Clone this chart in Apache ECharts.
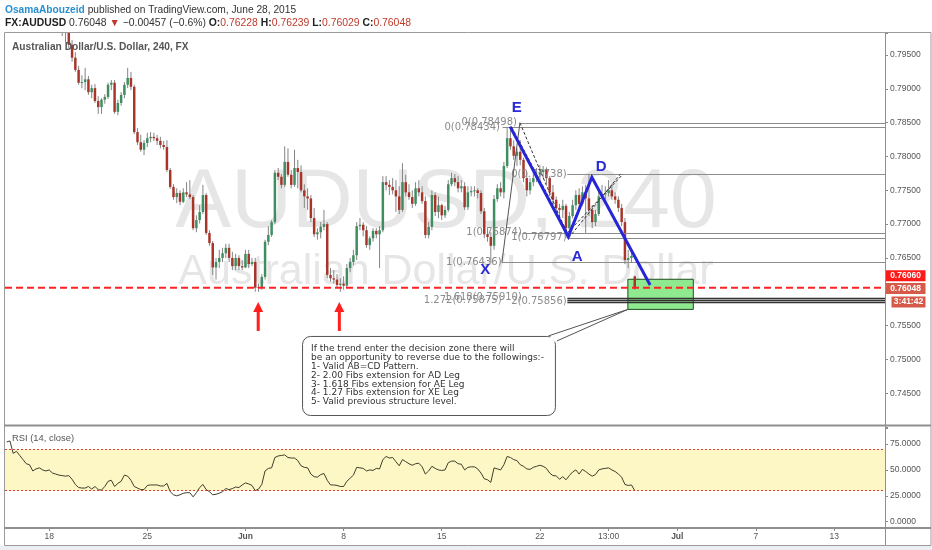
<!DOCTYPE html>
<html>
<head>
<meta charset="utf-8">
<title>AUDUSD 240</title>
<script src="https://cdn.jsdelivr.net/npm/echarts@6.0.0/dist/echarts.min.js"></script>
<style>
html,body{margin:0;padding:0;background:#fff;overflow:hidden}
#chart{width:932px;height:550px}
</style>
</head>
<body>
<div id="chart"></div>
<script>
// ---------------- data ----------------
// 4h candles: [open, high, low, close]
const CANDLES = [
[0.8110,0.8125,0.8095,0.8120],[0.8120,0.8135,0.8110,0.8128],[0.8128,0.8130,0.8085,0.8090],[0.8090,0.8108,0.8080,0.8100],
[0.8100,0.8104,0.8075,0.8080],[0.8080,0.8088,0.8060,0.8065],[0.8065,0.8072,0.8050,0.8055],[0.8055,0.8062,0.8045,0.8052],
[0.8052,0.8055,0.8025,0.8030],[0.8030,0.8045,0.8025,0.8040],[0.8040,0.8050,0.8035,0.8045],[0.8045,0.8048,0.8030,0.8036],
[0.8036,0.8042,0.8025,0.8032],[0.8032,0.8040,0.8028,0.8036],[0.8036,0.8038,0.8018,0.8022],[0.8022,0.8030,0.8012,0.8016],
[0.8016,0.8022,0.8005,0.8010],[0.8010,0.8017,0.7978,0.8002],[0.8002,0.8009,0.7969,0.7987],[0.7987,0.7991,0.7960,0.7965],
[0.7965,0.7972,0.7940,0.7946],[0.7946,0.7954,0.7925,0.7928],[0.7928,0.7934,0.7906,0.7909],[0.7909,0.7920,0.7901,0.7910],
[0.7910,0.7931,0.7898,0.7914],[0.7914,0.7919,0.7891,0.7895],[0.7895,0.7906,0.7886,0.7901],[0.7901,0.7907,0.7879,0.7882],
[0.7882,0.7889,0.7863,0.7873],[0.7873,0.7886,0.7863,0.7884],[0.7884,0.7892,0.7878,0.7888],[0.7888,0.7909,0.7885,0.7906],
[0.7906,0.7913,0.7898,0.7909],[0.7909,0.7913,0.7863,0.7866],[0.7866,0.7884,0.7861,0.7879],[0.7879,0.7895,0.7875,0.7891],
[0.7891,0.7910,0.7886,0.7906],[0.7906,0.7931,0.7901,0.7916],[0.7916,0.7925,0.7898,0.7903],[0.7903,0.7906,0.7833,0.7836],
[0.7836,0.7842,0.7817,0.7821],[0.7821,0.7832,0.7807,0.7810],[0.7810,0.7824,0.7802,0.7820],[0.7820,0.7835,0.7814,0.7827],
[0.7827,0.7836,0.7821,0.7829],[0.7829,0.7835,0.7823,0.7827],[0.7827,0.7832,0.7817,0.7823],[0.7823,0.7829,0.7812,0.7817],
[0.7817,0.7823,0.7810,0.7814],[0.7814,0.7824,0.7777,0.7780],[0.7780,0.7783,0.7752,0.7755],[0.7755,0.7759,0.7736,0.7740],
[0.7740,0.7753,0.7731,0.7746],[0.7746,0.7750,0.7728,0.7733],[0.7733,0.7753,0.7731,0.7747],[0.7747,0.7762,0.7740,0.7744],
[0.7744,0.7765,0.7737,0.7740],[0.7740,0.7743,0.7691,0.7694],[0.7694,0.7713,0.7688,0.7706],[0.7706,0.7728,0.7701,0.7718],
[0.7718,0.7758,0.7715,0.7743],[0.7743,0.7746,0.7684,0.7687],[0.7687,0.7691,0.7668,0.7672],[0.7672,0.7675,0.7625,0.7636],
[0.7636,0.7650,0.7618,0.7644],[0.7644,0.7662,0.7635,0.7650],[0.7650,0.7665,0.7644,0.7657],[0.7657,0.7671,0.7650,0.7665],
[0.7665,0.7671,0.7644,0.7650],[0.7650,0.7659,0.7632,0.7638],[0.7638,0.7656,0.7632,0.7650],[0.7650,0.7654,0.7632,0.7638],
[0.7638,0.7647,0.7632,0.7636],[0.7636,0.7662,0.7635,0.7656],[0.7656,0.7662,0.7635,0.7641],[0.7641,0.7650,0.7638,0.7644],
[0.7644,0.7650,0.7600,0.7606],[0.7606,0.7612,0.7600,0.7607],[0.7607,0.7626,0.7603,0.7622],[0.7622,0.7677,0.7618,0.7674],
[0.7674,0.7697,0.7669,0.7684],[0.7684,0.7706,0.7681,0.7703],[0.7703,0.7780,0.7700,0.7776],[0.7776,0.7783,0.7765,0.7770],
[0.7770,0.7774,0.7753,0.7758],[0.7758,0.7815,0.7755,0.7792],[0.7792,0.7812,0.7770,0.7773],[0.7773,0.7780,0.7753,0.7758],
[0.7758,0.7810,0.7755,0.7783],[0.7783,0.7795,0.7753,0.7777],[0.7777,0.7787,0.7747,0.7750],[0.7750,0.7759,0.7724,0.7741],
[0.7741,0.7753,0.7721,0.7738],[0.7738,0.7743,0.7703,0.7709],[0.7709,0.7724,0.7681,0.7685],[0.7685,0.7694,0.7677,0.7688],
[0.7688,0.7703,0.7679,0.7696],[0.7696,0.7721,0.7691,0.7700],[0.7700,0.7703,0.7620,0.7625],[0.7625,0.7635,0.7615,0.7620],
[0.7620,0.7632,0.7612,0.7618],[0.7618,0.7626,0.7606,0.7610],[0.7610,0.7620,0.7600,0.7612],[0.7612,0.7623,0.7603,0.7609],
[0.7609,0.7641,0.7606,0.7635],[0.7635,0.7650,0.7629,0.7644],[0.7644,0.7662,0.7639,0.7654],[0.7654,0.7703,0.7647,0.7697],
[0.7697,0.7709,0.7691,0.7699],[0.7699,0.7703,0.7682,0.7691],[0.7691,0.7697,0.7665,0.7669],[0.7669,0.7682,0.7662,0.7679],
[0.7679,0.7694,0.7674,0.7690],[0.7690,0.7694,0.7679,0.7685],[0.7685,0.7697,0.7635,0.7691],[0.7691,0.7771,0.7688,0.7762],
[0.7762,0.7771,0.7750,0.7758],[0.7758,0.7765,0.7743,0.7755],[0.7755,0.7768,0.7744,0.7750],[0.7750,0.7765,0.7718,0.7741],
[0.7741,0.7756,0.7715,0.7721],[0.7721,0.7790,0.7718,0.7762],[0.7762,0.7773,0.7741,0.7747],[0.7747,0.7759,0.7736,0.7740],
[0.7740,0.7750,0.7724,0.7730],[0.7730,0.7762,0.7727,0.7753],[0.7753,0.7765,0.7741,0.7747],[0.7747,0.7756,0.7730,0.7734],
[0.7734,0.7741,0.7679,0.7684],[0.7684,0.7703,0.7679,0.7696],[0.7696,0.7750,0.7691,0.7743],[0.7743,0.7747,0.7712,0.7718],
[0.7718,0.7741,0.7709,0.7728],[0.7728,0.7730,0.7706,0.7713],[0.7713,0.7727,0.7709,0.7721],[0.7721,0.7765,0.7718,0.7759],
[0.7759,0.7776,0.7756,0.7768],[0.7768,0.7774,0.7756,0.7762],[0.7762,0.7771,0.7747,0.7753],[0.7753,0.7765,0.7747,0.7756],
[0.7756,0.7762,0.7721,0.7725],[0.7725,0.7756,0.7721,0.7747],[0.7747,0.7756,0.7741,0.7749],[0.7749,0.7756,0.7741,0.7750],
[0.7750,0.7753,0.7738,0.7746],[0.7746,0.7750,0.7715,0.7719],[0.7719,0.7724,0.7679,0.7685],[0.7685,0.7694,0.7674,0.7681],
[0.7681,0.7688,0.76436,0.7668],[0.7668,0.7743,0.7662,0.7737],[0.7737,0.7759,0.7733,0.7753],[0.7753,0.7762,0.7741,0.7747],
[0.7747,0.7792,0.7738,0.7786],[0.7786,0.78434,0.7783,0.7827],[0.7827,0.7839,0.7810,0.7815],[0.7815,0.7824,0.7795,0.7801],
[0.7801,0.7812,0.7786,0.7807],[0.7807,0.7824,0.7787,0.7795],[0.7795,0.7798,0.7762,0.7768],[0.7768,0.7777,0.7741,0.7750],
[0.7750,0.7768,0.7744,0.7762],[0.7762,0.7777,0.7756,0.7768],[0.7768,0.7783,0.7762,0.7773],[0.7773,0.7787,0.7765,0.7777],
[0.7777,0.7786,0.7768,0.7780],[0.7780,0.7784,0.7759,0.7768],[0.7768,0.7771,0.7741,0.7747],[0.7747,0.7758,0.7728,0.7736],
[0.7736,0.7741,0.7718,0.7724],[0.7724,0.7730,0.7712,0.7721],[0.7721,0.7736,0.7709,0.7727],[0.7727,0.7730,0.76797,0.7694],
[0.7694,0.7718,0.7685,0.7712],[0.7712,0.7736,0.7709,0.7728],[0.7728,0.7750,0.7721,0.7743],[0.7743,0.7753,0.7724,0.7730],
[0.7730,0.7756,0.7727,0.7747],[0.7747,0.7758,0.7687,0.7738],[0.7738,0.77738,0.7712,0.7721],[0.7721,0.7728,0.7694,0.7703],
[0.7703,0.7721,0.7697,0.7715],[0.7715,0.7750,0.7712,0.7741],[0.7741,0.7758,0.7736,0.7744],[0.7744,0.7756,0.7736,0.7746],
[0.7746,0.7765,0.7741,0.7750],[0.7750,0.7759,0.7736,0.7741],[0.7741,0.7747,0.7730,0.7736],[0.7736,0.7741,0.7718,0.7724],
[0.7724,0.7730,0.7697,0.7703],[0.7703,0.7709,0.7641,0.7647],[0.7647,0.7662,0.7635,0.7650],[0.7650,0.7659,0.7644,0.7653],
[0.76228,0.76239,0.76029,0.76048]
];

// RSI(14, close), one value per candle
const RSI_VALUES = [
77,78,66,68,64,60,56,55,49,51, 52,50,49,50,47,46,45,44.5,44,44.5,
41,36,33,32.5,32.5,34,31.5,34,31,30.5, 34,39,40,34,37,39,45,44,40,34,
32.5,31,31,35,35.5,35.5,35.5,34.5,34.5,37, 29,26,25,26,27.5,28,28,24,28,33,
36,31,29,26,26.5,27.5,29,32,31,32, 33.5,33,35.5,37.5,36.5,35,30,31.5,36,49,
51.5,52,62,63.5,64,64.5,62,61.5,61.5,59, 54,52.5,52,46,43.5,43,45.5,46.5,40,35.5,
35.5,35,34,34,39,42,45,52.5,52,51.5, 49,50,49.5,51.5,51,60,63,61.5,62,58,
54,60,58,56,54.5,56,56.5,53,46,49, 53.5,51.5,50,49.5,50,57,58.5,58.5,56,55.5,
50,52.5,53,53,51,47,41.5,40.5,38,52, 51,50,55,63,62,60,59,55,53.5,51,
50.5,52.5,53.5,54.5,53.5,51.5,47,44.5,44.3,41, 43.5,40.5,44.5,48,50,46,50.5,48.5,46,44,
45.5,50,51,51.5,52,50,48.5,46,43,36, 35,35.5,30
];

// time axis: bar slots (incl. empty future space) and labelled slots
const SLOT_COUNT = 269;
const TICK_INDEX = [13, 43, 73, 103, 133, 163, 184, 205, 229, 253];
const TICK_TEXT  = ['18', '25', 'Jun', '8', '15', '22', '13:00', 'Jul', '7', '13'];
const MONTH_TICKS = ['Jun', 'Jul'];

// drawings, in (bar index, price)
const RED_LEVEL = 0.76060;
const LAST_PRICE = 0.76048;
const FIB_LEVELS = [[0.78498,157.0],[0.78434,151.6],[0.77738,171.4],[0.76874,157.7],[0.76797,171.4],
                    [0.76436,151.4],[0.75910,171.4],[0.75875,171.4],[0.75856,171.4]];
const FIB_TEXTS = [['0(0.78498)',156.0,0.78498],['0(0.78434)',150.8,0.78434],['0(0.77738)',171.2,0.77738],
                   ['1(0.76874)',157.5,0.76874],['1(0.76797)',171.2,0.76797],['1(0.76436)',151.3,0.76436],
                   ['1.272(0.75875)',151.3,0.75875],['1.618(0.75910)',157.5,0.75910],['2(0.75856)',171.2,0.75856]];
const TREND_DASHED = [[[156.9,0.78498],[171.8,0.76797]],[[154.4,0.78434],[171.5,0.76874]],
                      [[171.8,0.76797],[187.6,0.77738]],[[171.5,0.76874],[188.4,0.77738]]];
const TREND_SOLID = [[[151.4,0.76436],[156.9,0.78498]]];
const PATTERN_PATH = [[153.9,0.78441],[171.7,0.76815],[178.9,0.77693],[196.7,0.76101]];
const PATTERN_LETTERS = [['E',155.9,0.78717],['D',181.7,0.77845],['A',174.4,0.76515],['X',146.3,0.76322]];
const DECISION_ZONE = [[189.9,0.76185],[209.9,0.75740]];
const ARROWS = [[76.9,0.75421,0.75849],[101.7,0.75421,0.75849]];
const CALLOUT_BOX = [[90.3,0.75347],[167.6,0.74179]];
const CALLOUT_TAIL = [[165.6,0.75347],[189.9,0.75740],[168.2,0.75273]];
const CALLOUT_TEXT_AT = [93.05,0.75220];
const CALLOUT_LINES = [
 'If the trend enter the decision zone there will',
 'be an opportunity to reverse due to the followings:-',
 '1- Valid AB=CD Pattern.',
 '2- 2.00 Fibs extension for AD Leg',
 '3- 1.618 Fibs extension for AE Leg',
 '4- 1.27 Fibs extension for XE Leg',
 '5- Valid previous structure level.'
];

// ---------------- chart ----------------
const SANS = '"Liberation Sans", Arial, sans-serif';
const VERD = '"DejaVu Sans", Verdana, sans-serif';
const UP = '#3f8d60', DOWN = '#a8352a', WICK = '#858585';
const X_MIN = -0.5, X_MAX = SLOT_COUNT - 0.5;
const CATS = Array.from({length: SLOT_COUNT}, (_, i) => 'b' + i);
const labelAt = {};
TICK_INDEX.forEach((k, j) => { labelAt[k] = TICK_TEXT[j]; });

function onTick(v, step) {
  const k = Math.round(v / step);
  return Math.abs(k * step - v) < step * 1e-4;
}

function renderCandle(params, api) {
  const i = api.value(0), o = api.value(1), h = api.value(2), l = api.value(3), c = api.value(4);
  const pO = api.coord([i, o]), pC = api.coord([i, c]), pH = api.coord([i, h]), pL = api.coord([i, l]);
  const bw = api.size([1, 0])[0] * 0.76;
  const cx = pO[0];
  const top = Math.min(pO[1], pC[1]);
  const hh = Math.max(1, Math.abs(pO[1] - pC[1]));
  return {type: 'group', children: [
    {type: 'line', shape: {x1: cx, y1: pH[1], x2: cx, y2: pL[1]}, style: {stroke: WICK, lineWidth: 1}},
    {type: 'rect', shape: {x: cx - bw / 2, y: top, width: bw, height: hh}, style: {fill: c >= o ? UP : DOWN}}
  ]};
}

function renderUnder(params, api) {
  const a = api.coord(DECISION_ZONE[0]), b = api.coord(DECISION_ZONE[1]);
  return {type: 'rect', shape: {x: a[0], y: a[1], width: b[0] - a[0], height: b[1] - a[1]},
          style: {fill: '#8fe98f', stroke: '#1f4d1f', lineWidth: 1}};
}

function renderOver(params, api) {
  const P = (x, y) => api.coord([x, y]);
  const ch = [];
  // fib levels
  FIB_LEVELS.forEach(([price, from]) => {
    const a = P(from, price), b = P(X_MAX, price);
    const y = Math.round(a[1]) + 0.5;
    const dark = price < 0.76;
    ch.push({type: 'line', shape: {x1: a[0], y1: y, x2: b[0], y2: y},
             style: {stroke: dark ? '#333' : '#8c8c8c', lineWidth: dark ? 1.4 : 1}});
  });
  FIB_TEXTS.forEach(([t, x, price]) => {
    const p = P(x, price);
    ch.push({type: 'text', style: {x: p[0], y: p[1], text: t, font: '10px ' + VERD, fill: '#8a8a8a',
             align: 'right', verticalAlign: 'middle'}});
  });
  // fib trend lines
  TREND_DASHED.forEach(([s, e]) => {
    const a = P(s[0], s[1]), b = P(e[0], e[1]);
    ch.push({type: 'line', shape: {x1: a[0], y1: a[1], x2: b[0], y2: b[1]},
             style: {stroke: '#333', lineWidth: 1, lineDash: [3, 2]}});
  });
  TREND_SOLID.forEach(([s, e]) => {
    const a = P(s[0], s[1]), b = P(e[0], e[1]);
    ch.push({type: 'line', shape: {x1: a[0], y1: a[1], x2: b[0], y2: b[1]}, style: {stroke: '#555', lineWidth: 1}});
  });
  // horizontal support
  {
    const a = P(X_MIN, RED_LEVEL), b = P(X_MAX, RED_LEVEL);
    ch.push({type: 'line', shape: {x1: a[0], y1: a[1], x2: b[0], y2: b[1]},
             style: {stroke: '#ff2222', lineWidth: 2, lineDash: [7, 4]}});
  }
  // pattern
  ch.push({type: 'polyline', shape: {points: PATTERN_PATH.map(p => P(p[0], p[1]))},
           style: {stroke: '#2626d8', lineWidth: 3, fill: null}});
  PATTERN_LETTERS.forEach(([t, x, price]) => {
    const p = P(x, price);
    ch.push({type: 'text', style: {x: p[0], y: p[1], text: t, font: 'bold 15px ' + SANS, fill: '#2a2ad6',
             align: 'center', verticalAlign: 'middle'}});
  });
  // arrows
  ARROWS.forEach(([x, base, tip]) => {
    const b = P(x, base), t = P(x, tip);
    const cx = b[0];
    ch.push({type: 'rect', shape: {x: cx - 1.5, y: t[1] + 8, width: 3, height: b[1] - t[1] - 8}, style: {fill: '#ff1f1f'}});
    ch.push({type: 'polygon', shape: {points: [[cx - 5, t[1] + 10], [cx, t[1]], [cx + 5, t[1] + 10]]}, style: {fill: '#ff1f1f'}});
  });
  // callout
  {
    const a = P(CALLOUT_BOX[0][0], CALLOUT_BOX[0][1]), b = P(CALLOUT_BOX[1][0], CALLOUT_BOX[1][1]);
    ch.push({type: 'rect', shape: {x: a[0] + 0.5, y: a[1] + 0.5, width: b[0] - a[0], height: b[1] - a[1], r: 8},
             style: {fill: '#fff', stroke: '#555', lineWidth: 1}});
    const tp = CALLOUT_TAIL.map(p => P(p[0], p[1]));
    ch.push({type: 'polygon', shape: {points: [[tp[0][0] + 1, tp[0][1] + 1.5], tp[1], [tp[2][0] - 1, tp[2][1] + 1.5]]},
             style: {fill: '#fff'}});
    ch.push({type: 'polyline', shape: {points: tp}, style: {stroke: '#555', lineWidth: 1, fill: null}});
    const t = P(CALLOUT_TEXT_AT[0], CALLOUT_TEXT_AT[1]);
    ch.push({type: 'text', style: {x: t[0], y: t[1], text: CALLOUT_LINES.join('\n'), font: '9px ' + VERD,
             lineHeight: 8.8, fill: '#333', align: 'left', verticalAlign: 'top'}});
  }
  // price tags on the axis
  {
    const right = P(X_MAX, RED_LEVEL)[0];
    const yR = P(X_MAX, RED_LEVEL)[1] - 12;
    const yL = P(X_MAX, LAST_PRICE)[1];
    const yT = yL + 13.5;
    const tag = (y, w, dx, fill, text) => {
      ch.push({type: 'rect', shape: {x: right + dx, y: y - 5.5, width: w, height: 11}, style: {fill}});
      ch.push({type: 'text', style: {x: right + dx + w / 2, y: y, text, font: 'bold 8.5px ' + SANS, fill: '#fff',
               align: 'center', verticalAlign: 'middle'}});
    };
    tag(yR, 40, 0.5, '#ff1a1a', RED_LEVEL.toFixed(5));
    tag(yL, 40, 0.5, '#d65a4a', LAST_PRICE.toFixed(5));
    tag(yT, 34, 6.5, '#d65a4a', '3:41:42');
  }
  return {type: 'group', children: ch};
}

const chart = echarts.init(document.getElementById('chart'), null, {renderer: 'canvas', width: 932, height: 550});

chart.setOption({
  animation: false,
  backgroundColor: '#ffffff',
  textStyle: {fontFamily: SANS},
  grid: [
    {left: 5, top: 33, width: 880, height: 394.1},
    {left: 5, top: 428, width: 880, height: 93.7}
  ],
  xAxis: [
    {type: 'value', gridIndex: 0, min: X_MIN, max: X_MAX, show: false,
     axisLine: {show: false, onZero: false}},
    {type: 'category', gridIndex: 1, data: CATS, boundaryGap: true, position: 'bottom', offset: 6.3,
     axisLine: {show: false, onZero: false},
     axisTick: {show: true, alignWithLabel: true, length: 3, interval: (i) => (i in labelAt), lineStyle: {color: '#888'}},
     axisLabel: {interval: (i) => (i in labelAt), margin: 4, color: '#555', fontSize: 8.5, fontFamily: SANS,
       formatter: (v, i) => {
         const t = labelAt[i] || '';
         return MONTH_TICKS.indexOf(t) >= 0 ? '{m|' + t + '}' : t;
       },
       rich: {m: {fontWeight: 'bold', fontSize: 8.5, color: '#555', fontFamily: SANS}}},
     splitLine: {show: false}}
  ],
  yAxis: [
    {type: 'value', gridIndex: 0, position: 'right', min: 0.74, max: 0.79825, interval: 0.005,
     axisLine: {show: false, onZero: false}, splitLine: {show: false},
     axisTick: {show: true, length: 3, lineStyle: {color: '#888'}},
     axisLabel: {margin: 5, color: '#555', fontSize: 8.5, fontFamily: SANS,
       formatter: (v) => (!onTick(v, 0.005) || v < 0.7425 || Math.abs(v - 0.76) < 1e-6) ? '' : v.toFixed(5)}},
    {type: 'value', gridIndex: 1, position: 'right', min: 0, max: 90.5, interval: 25,
     axisLine: {show: false, onZero: false}, splitLine: {show: false},
     axisTick: {show: true, length: 3, lineStyle: {color: '#888'}},
     axisLabel: {margin: 5, color: '#555', fontSize: 8.5, fontFamily: SANS,
       formatter: (v) => onTick(v, 25) ? v.toFixed(4) : ''}}
  ],
  series: [
    {type: 'custom', name: 'zone', xAxisIndex: 0, yAxisIndex: 0, z: 1, silent: true, clip: false,
     renderItem: renderUnder, data: [[DECISION_ZONE[0][0], DECISION_ZONE[0][1]]]},
    {type: 'custom', name: 'AUDUSD', xAxisIndex: 0, yAxisIndex: 0, z: 3, silent: true, clip: true,
     renderItem: renderCandle, encode: {x: 0, y: [1, 2, 3, 4]},
     data: CANDLES.map((r, i) => [i, r[0], r[1], r[2], r[3]])},
    {type: 'custom', name: 'drawings', xAxisIndex: 0, yAxisIndex: 0, z: 5, silent: true, clip: false,
     renderItem: renderOver, data: [[PATTERN_PATH[0][0], PATTERN_PATH[0][1]]]},
    {type: 'line', name: 'RSI', xAxisIndex: 1, yAxisIndex: 1, data: RSI_VALUES, showSymbol: false, symbol: 'none',
     lineStyle: {color: '#3f3f2c', width: 1}, z: 4, silent: true,
     markArea: {silent: true, itemStyle: {color: '#fcf7c5'}, data: [[{yAxis: 30}, {yAxis: 70}]]},
     markLine: {silent: true, symbol: 'none', label: {show: false},
       lineStyle: {color: '#e03b3b', type: [2, 2], width: 1}, data: [{yAxis: 70}, {yAxis: 30}]}}
  ],
  graphic: [
    // watermark
    {type: 'text', z: 0, silent: true, style: {x: 446, y: 204, text: 'AUDUSD, 240', font: '84px ' + SANS,
      fill: '#e6e6e6', align: 'center', verticalAlign: 'middle'}},
    {type: 'text', z: 0, silent: true, style: {x: 446, y: 272, text: 'Australian Dollar/U.S. Dollar', font: '43px ' + SANS,
      fill: '#e6e6e6', align: 'center', verticalAlign: 'middle'}},
    // frames
    {type: 'rect', z: 100, silent: true, shape: {x: 0, y: 545.5, width: 932, height: 5}, style: {fill: '#eceff2'}},
    {type: 'rect', z: 100, silent: true, shape: {x: 4.5, y: 32.5, width: 926.5, height: 513}, style: {fill: null, stroke: '#9b9b9b', lineWidth: 1}},
    {type: 'line', z: 100, silent: true, shape: {x1: 4, y1: 425.5, x2: 931, y2: 425.5}, style: {stroke: '#8f8f8f', lineWidth: 2}},
    {type: 'line', z: 100, silent: true, shape: {x1: 4, y1: 528, x2: 931, y2: 528}, style: {stroke: '#8f8f8f', lineWidth: 2}},
    {type: 'line', z: 100, silent: true, shape: {x1: 885.5, y1: 33, x2: 885.5, y2: 545}, style: {stroke: '#8f8f8f', lineWidth: 1}},
    // header
    {type: 'text', z: 100, silent: true, style: {x: 5, y: 10, verticalAlign: 'middle', align: 'left',
      text: '{u|OsamaAbouzeid}{t| published on TradingView.com, June 28, 2015}',
      font: '10.2px ' + SANS,
      rich: {u: {fill: '#2a8fd2', fontWeight: 'bold', fontSize: 10.2, fontFamily: SANS},
             t: {fill: '#333', fontSize: 10.2, fontFamily: SANS}}}},
    {type: 'text', z: 100, silent: true, style: {x: 5, y: 23, verticalAlign: 'middle', align: 'left',
      text: '{b|FX:AUDUSD} {n|0.76048} {r|▼}{n| −0.00457 (−0.6%)} {b|O:}{r|0.76228} {b|H:}{r|0.76239} {b|L:}{r|0.76029} {b|C:}{r|0.76048}',
      font: '10.4px ' + SANS,
      rich: {b: {fill: '#222', fontWeight: 'bold', fontSize: 10.4, fontFamily: SANS},
             n: {fill: '#333', fontSize: 10.4, fontFamily: SANS},
             r: {fill: '#c0392b', fontSize: 10.4, fontFamily: SANS}}}},
    {type: 'text', z: 100, silent: true, style: {x: 12, y: 47, verticalAlign: 'middle', align: 'left',
      text: 'Australian Dollar/U.S. Dollar, 240, FX', font: 'bold 10.2px ' + SANS, fill: '#555'}},
    {type: 'text', z: 100, silent: true, style: {x: 12, y: 438, verticalAlign: 'middle', align: 'left',
      text: 'RSI (14, close)', font: '9.4px ' + SANS, fill: '#555'}}
  ]
});
</script>
</body>
</html>
